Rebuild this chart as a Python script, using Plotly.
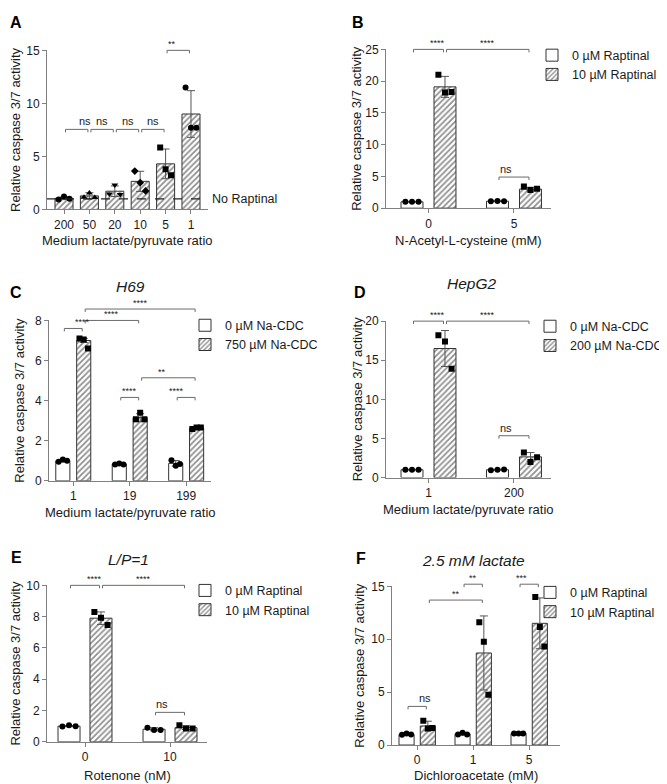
import plotly.graph_objects as go

FONT = "Arial, 'Liberation Sans', sans-serif"
INK = "#1a1a1a"
AXIS = "#808080"
EDGE = "#333333"
W, H = 667, 784

# ---- data ----
# A: Raptinal, varying medium lactate/pyruvate ratio
a_ratio = ["200", "50", "20", "10", "5", "1"]
a_mean = [1.05, 1.28, 1.72, 2.65, 4.3, 9.0]
a_sd = [0.12, 0.3, 0.5, 0.95, 1.4, 2.2]
a_points = [[0.93, 1.22, 1.02], [1.15, 1.55, 1.12], [1.45, 2.3, 1.42],
            [3.62, 2.53, 1.75], [5.85, 3.78, 3.22], [11.5, 7.7, 7.7]]
a_symbols = ["circle", "triangle-up", "triangle-down", "diamond", "square", "circle"]
a_brackets = [(0, 1, 7.55, "ns"), (1, 2, 7.55, "ns"), (2, 3, 7.55, "ns"),
              (3, 4, 7.55, "ns"), (4, 5, 15.0, "**")]

# B: N-Acetyl-L-cysteine
b_groups = ["0", "5"]
b_names = ["0 µM Raptinal", "10 µM Raptinal"]
b_white = [1.0, 1.1]
b_white_sd = [0.03, 0.05]
b_white_pts = [[1.0, 1.02, 1.0], [1.1, 1.12, 1.1]]
b_hatch = [19.1, 3.0]
b_hatch_sd = [1.65, 0.3]
b_hatch_pts = [[21.0, 18.2, 18.3], [3.4, 2.85, 3.05]]
b_brackets = [(0, 1, 25.0, "****"), (1, 3, 25.0, "****"), (2, 3, 4.9, "ns")]

# C: H69, Na-CDC
c_groups = ["1", "19", "199"]
c_names = ["0 µM Na-CDC", "750 µM Na-CDC"]
c_white = [1.0, 0.84, 0.87]
c_white_sd = [0.06, 0.03, 0.14]
c_white_pts = [[0.95, 1.07, 1.0], [0.82, 0.87, 0.82], [1.03, 0.75, 0.84]]
c_hatch = [7.0, 3.15, 2.63]
c_hatch_sd = [0.1, 0.2, 0.05]
c_hatch_pts = [[7.1, 7.05, 6.6], [3.07, 3.4, 3.07], [2.58, 2.66, 2.66]]
c_brackets = [(0, 1, 7.6, "****"), (1, 3, 8.0, "****"), (1, 5, 8.57, "****"),
              (3, 5, 5.14, "**"), (2, 3, 4.16, "****"), (4, 5, 4.16, "****")]

# D: HepG2, Na-CDC
d_groups = ["1", "200"]
d_names = ["0 µM Na-CDC", "200 µM Na-CDC"]
d_white = [1.0, 1.0]
d_white_sd = [0.02, 0.05]
d_white_pts = [[1.0, 1.0, 1.0], [0.95, 1.0, 1.02]]
d_hatch = [16.5, 2.65]
d_hatch_sd = [2.3, 0.55]
d_hatch_pts = [[18.2, 17.4, 13.9], [3.2, 2.0, 2.6]]
d_brackets = [(0, 1, 20.0, "****"), (1, 3, 20.0, "****"), (2, 3, 5.35, "ns")]

# E: L/P=1, rotenone
e_groups = ["0", "10"]
e_names = ["0 µM Raptinal", "10 µM Raptinal"]
e_white = [1.0, 0.8]
e_white_sd = [0.03, 0.1]
e_white_pts = [[0.98, 1.05, 1.0], [0.9, 0.75, 0.75]]
e_hatch = [7.9, 0.9]
e_hatch_sd = [0.4, 0.12]
e_hatch_pts = [[8.3, 7.92, 7.47], [1.05, 0.85, 0.85]]
e_brackets = [(0, 1, 10.0, "****"), (1, 3, 10.0, "****"), (2, 3, 1.88, "ns")]

# F: 2.5 mM lactate, dichloroacetate
f_groups = ["0", "1", "5"]
f_names = ["0 µM Raptinal", "10 µM Raptinal"]
f_white = [1.0, 1.05, 1.1]
f_white_sd = [0.05, 0.1, 0.02]
f_white_pts = [[0.98, 1.08, 1.0], [1.0, 1.17, 1.0], [1.1, 1.1, 1.1]]
f_hatch = [1.8, 8.7, 11.5]
f_hatch_sd = [0.45, 3.5, 2.4]
f_hatch_pts = [[2.3, 1.55, 1.6], [11.6, 9.75, 4.75], [14.0, 11.15, 9.3]]
f_brackets = [(0, 1, 3.65, "ns"), (1, 3, 13.7, "**"), (2, 3, 15.2, "**"), (4, 5, 15.2, "***")]

# ---- layout geometry (pixels in the 667x784 page) ----
geo = {
    "A": dict(n=1, px=(39, 200), py=(36, 198), xr=(-0.67, 5.67), ymax=15, dtick=5, w=0.71, off=0),
    "B": dict(n=2, px=(378, 543), py=(35, 196.7), xr=(-0.497, 1.433), ymax=25, dtick=5, w=0.257, off=0.193),
    "C": dict(n=3, px=(41, 203), py=(311, 474.3), xr=(-0.43, 2.44), ymax=8, dtick=2, w=0.25, off=0.185),
    "D": dict(n=4, px=(378, 543), py=(311.7, 471), xr=(-0.497, 1.433), ymax=20, dtick=5, w=0.257, off=0.193),
    "E": dict(n=5, px=(39, 199), py=(580.7, 740), xr=(-0.447, 1.435), ymax=10, dtick=2, w=0.259, off=0.188),
    "F": dict(n=6, px=(384, 552), py=(581.7, 743.3), xr=(-0.45, 2.55), ymax=15, dtick=5, w=0.27, off=0.19),
}
# x title: text, centre y; y title centre x
xtitles = {"A": ("Medium lactate/pyruvate ratio", 230), "B": ("N-Acetyl-L-cysteine (mM)", 230),
           "C": ("Medium lactate/pyruvate ratio", 507), "D": ("Medium lactate/pyruvate ratio", 503),
           "E": ("Rotenone (nM)", 774), "F": ("Dichloroacetate (mM)", 774)}
ytitle_x = {"A": 8, "B": 349, "C": 12, "D": 349, "E": 8, "F": 352}
subtitles = {"C": ("H69", 122, 276), "D": ("HepG2", 463, 273),
             "E": ("L/P=1", 120, 554), "F": ("2.5 mM lactate", 466, 555)}
letters = {"A": (8, 8), "B": (350, 8), "C": (8, 283), "D": (352, 283), "E": (8, 552), "F": (353, 553)}
legend_top = {"B": (524, 26), "C": (177, 301), "D": (522, 302), "E": (177, 571), "F": (522, 573)}

fig = go.Figure()
shapes, annos = [], []
spread = [-0.3, 0.0, 0.3]


def ids(p):
    n = geo[p]["n"]
    return ("x" if n == 1 else f"x{n}"), ("y" if n == 1 else f"y{n}")


def add_bars(p, xs, means, sds, pts, symbols, hatched, name, legend, showleg):
    g = geo[p]
    xa, ya = ids(p)
    fig.add_trace(go.Bar(
        x=xs, y=means, width=g["w"], name=name, legend=legend, showlegend=showleg,
        xaxis=xa, yaxis=ya,
        marker=dict(color="white", line=dict(color=EDGE, width=1),
                    pattern=dict(shape="/" if hatched else "", fgcolor="#222222", bgcolor="white",
                                 size=4, solidity=0.45)),
        error_y=dict(type="data", array=sds, color="#555555", thickness=1, width=4),
    ))
    for i, x in enumerate(xs):
        fig.add_trace(go.Scatter(
            x=[x + s * g["w"] for s in spread], y=pts[i], mode="markers",
            xaxis=xa, yaxis=ya, showlegend=False, hoverinfo="skip",
            marker=dict(symbol=symbols[i], size=6, color="black"),
        ))


def add_brackets(p, centers, brackets):
    g = geo[p]
    xa, ya = ids(p)
    span = g["xr"][1] - g["xr"][0]
    wpx = g["px"][1] - g["px"][0]
    hpx = g["py"][1] - g["py"][0]
    inset = 1.5 / wpx
    tick = 3.0 / hpx
    for a, b, h, lab in brackets:
        x0 = (centers[a] - g["xr"][0]) / span + inset
        x1 = (centers[b] - g["xr"][0]) / span - inset
        y = h / g["ymax"]
        shapes.append(dict(type="path", xref=f"{xa} domain", yref=f"{ya} domain",
                           path=f"M{x0},{y - tick} L{x0},{y} L{x1},{y} L{x1},{y - tick}",
                           line=dict(color="#6a6a6a", width=1)))
        annos.append(dict(xref=f"{xa} domain", yref=f"{ya} domain", x=(x0 + x1) / 2, y=y,
                          text=lab, showarrow=False, yanchor="bottom",
                          yshift=0 if lab == "ns" else -1,
                          font=dict(size=11 if lab == "ns" else 9, color=INK)))


# panel A
a_x = list(range(len(a_ratio)))
add_bars("A", a_x, a_mean, a_sd, a_points, a_symbols, True, "A", "legend", False)
add_brackets("A", a_x, a_brackets)
shapes.append(dict(type="line", xref="x domain", yref="y", x0=0, x1=1, y0=1, y1=1,
                   line=dict(color="#222222", width=1.2, dash="dash"), layer="above"))
annos.append(dict(xref="x domain", yref="y", x=1.01, y=1, text="No Raptinal", showarrow=False,
                  xanchor="left", font=dict(size=12.5, color=INK)))

grouped = {
    "B": (b_groups, b_names, b_white, b_white_sd, b_white_pts, b_hatch, b_hatch_sd, b_hatch_pts, b_brackets, "legend"),
    "C": (c_groups, c_names, c_white, c_white_sd, c_white_pts, c_hatch, c_hatch_sd, c_hatch_pts, c_brackets, "legend2"),
    "D": (d_groups, d_names, d_white, d_white_sd, d_white_pts, d_hatch, d_hatch_sd, d_hatch_pts, d_brackets, "legend3"),
    "E": (e_groups, e_names, e_white, e_white_sd, e_white_pts, e_hatch, e_hatch_sd, e_hatch_pts, e_brackets, "legend4"),
    "F": (f_groups, f_names, f_white, f_white_sd, f_white_pts, f_hatch, f_hatch_sd, f_hatch_pts, f_brackets, "legend5"),
}
for p, (groups, names, wm, wsd, wpts, hm, hsd, hpts, brs, leg) in grouped.items():
    off = geo[p]["off"]
    wx = [i - off for i in range(len(groups))]
    hx = [i + off for i in range(len(groups))]
    add_bars(p, wx, wm, wsd, wpts, ["circle"] * len(groups), False, names[0], leg, True)
    add_bars(p, hx, hm, hsd, hpts, ["square"] * len(groups), True, names[1], leg, True)
    centers = []
    for i in range(len(groups)):
        centers += [wx[i], hx[i]]
    add_brackets(p, centers, brs)

layout = dict(
    width=W, height=H, margin=dict(l=0, r=0, t=0, b=0),
    paper_bgcolor="white", plot_bgcolor="white", barmode="overlay",
    font=dict(family=FONT, color=INK, size=12),
)
for p, g in geo.items():
    xa, ya = ids(p)
    key = "" if g["n"] == 1 else str(g["n"])
    labels = a_ratio if p == "A" else grouped[p][0]
    layout["xaxis" + key] = dict(
        domain=[g["px"][0] / W, g["px"][1] / W], anchor=ya, range=list(g["xr"]),
        tickvals=list(range(len(labels))), ticktext=labels,
        showline=True, linecolor=AXIS, linewidth=1, ticks="outside", ticklen=4, tickcolor=AXIS,
        showgrid=False, zeroline=False, tickfont=dict(size=12, color=INK),
    )
    layout["yaxis" + key] = dict(
        domain=[1 - g["py"][1] / H, 1 - g["py"][0] / H], anchor=xa, range=[0, g["ymax"]],
        dtick=g["dtick"], showline=True, linecolor=AXIS, linewidth=1, ticks="outside", ticklen=4,
        tickcolor=AXIS, showgrid=False, zeroline=False, tickfont=dict(size=12, color=INK),
    )
    xt, xty = xtitles[p]
    annos.append(dict(xref="paper", yref="paper", x=(g["px"][0] + g["px"][1]) / 2 / W, y=1 - xty / H,
                      text=xt, showarrow=False, xanchor="center", yanchor="middle",
                      font=dict(size=13, color=INK)))
    annos.append(dict(xref="paper", yref="paper", x=ytitle_x[p] / W,
                      y=1 - (g["py"][0] + g["py"][1]) / 2 / H, text="Relative caspase 3/7 activity",
                      textangle=-90, showarrow=False, xanchor="center", yanchor="middle",
                      font=dict(size=13, color=INK)))
    lx, ly = letters[p]
    annos.append(dict(xref="paper", yref="paper", x=lx / W, y=1 - ly / H, text=f"<b>{p}</b>",
                      showarrow=False, xanchor="center", yanchor="middle",
                      font=dict(size=16, color="black")))
for p, (t, tx, ty) in subtitles.items():
    annos.append(dict(xref="paper", yref="paper", x=tx / W, y=1 - ty / H, text=f"<i>{t}</i>",
                      showarrow=False, xanchor="center", yanchor="middle",
                      font=dict(size=15.5, color=INK)))

for p, leg in [("B", "legend"), ("C", "legend2"), ("D", "legend3"), ("E", "legend4"), ("F", "legend5")]:
    lx, ly = legend_top[p]
    layout[leg] = dict(x=lx / W, y=1 - ly / H, xanchor="left", yanchor="top",
                       bgcolor="rgba(0,0,0,0)", font=dict(size=12.5, color=INK), tracegroupgap=0)

layout["shapes"] = shapes
layout["annotations"] = annos
fig.update_layout(**layout)
fig.write_html("out.html")
